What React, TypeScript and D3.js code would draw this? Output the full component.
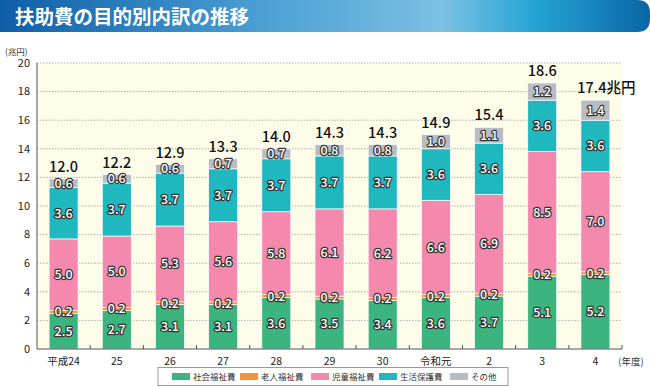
import React from 'react';
import * as d3 from 'd3';

// 年度
const years = ['平成24', '25', '26', '27', '28', '29', '30', '令和元', '2', '3', '4'];
const seriesNames = ['社会福祉費', '老人福祉費', '児童福祉費', '生活保護費', 'その他'];
const shakai = [2.5, 2.7, 3.1, 3.1, 3.6, 3.5, 3.4, 3.6, 3.7, 5.1, 5.2];
const roujin = [0.2, 0.2, 0.2, 0.2, 0.2, 0.2, 0.2, 0.2, 0.2, 0.2, 0.2];
const jidou = [5.0, 5.0, 5.3, 5.6, 5.8, 6.1, 6.2, 6.6, 6.9, 8.5, 7.0];
const seikatsu = [3.6, 3.7, 3.7, 3.7, 3.7, 3.7, 3.7, 3.6, 3.6, 3.6, 3.6];
const sonota = [0.6, 0.6, 0.6, 0.7, 0.7, 0.8, 0.8, 1.0, 1.1, 1.2, 1.4];
const totals = ['12.0', '12.2', '12.9', '13.3', '14.0', '14.3', '14.3', '14.9', '15.4', '18.6', '17.4'];
const yTicks = [0, 2, 4, 6, 8, 10, 12, 14, 16, 18, 20];

const colors = ['#3bb47f', '#f5923a', '#f489ad', '#1fb8be', '#b8bdc4'];
const font = '"Noto Sans CJK JP", "Noto Sans", sans-serif';

const App = () => {
  const width = 650;
  const height = 387;
  const margin = { top: 63, right: 28, bottom: 38, left: 37 };
  const innerW = width - margin.left - margin.right;
  const innerH = height - margin.top - margin.bottom;

  const x = d3.scaleBand().domain(years).range([0, innerW]).paddingInner(0.455).paddingOuter(0.2275);
  const y = d3.scaleLinear().domain([0, 20]).range([innerH, 0]);

  const table = years.map((yr, i) => ({
    yr,
    s0: shakai[i], s1: roujin[i], s2: jidou[i], s3: seikatsu[i], s4: sonota[i],
  }));
  const stack = d3.stack<any>().keys(['s0', 's1', 's2', 's3', 's4'])(table);

  const outline = {
    fill: '#fff',
    stroke: '#333',
    strokeWidth: 2.4,
    paintOrder: 'stroke' as const,
    strokeLinejoin: 'round' as const,
  };

  // 境界の目盛
  const bounds = years.map((_, i) => (i + 1) * x.step());

  const legendX = [172, 240, 311, 379, 450];

  return (
    <svg width={width} height={height} style={{ position: 'absolute', left: 0, top: 0, fontFamily: font }}>
      <defs>
        <linearGradient id="titleGrad" x1="0" x2="1" y1="0" y2="0">
          <stop offset="0" stopColor="#0f5ea8" />
          <stop offset="0.4" stopColor="#4b9fd3" />
          <stop offset="0.68" stopColor="#7cc0e2" />
          <stop offset="0.82" stopColor="#25a5d6" />
          <stop offset="1" stopColor="#0a66a6" />
        </linearGradient>
      </defs>
      <rect x={0} y={0} width={width} height={height} fill="#fff" />
      <path d={`M0,0 H${width - 13} Q${width},0 ${width},13 V19 Q${width},32 ${width - 13},32 H0 Z`} fill="url(#titleGrad)" />
      <text x={15} y={23.5} fill="#fff" fontSize={19.5} fontWeight={700}>扶助費の目的別内訳の推移</text>

      <text x={5} y={55} fontSize={8.5} fill="#333">(兆円)</text>

      <g transform={`translate(${margin.left},${margin.top})`}>
        <rect x={0} y={0} width={innerW} height={innerH} fill="#fefdea" />
        {yTicks.map(t => (
          <g key={t} transform={`translate(0,${y(t)})`}>
            {t > 0 && <line x2={innerW} stroke="#9a9a9a" strokeDasharray="1.5,1.5" strokeWidth={0.8} />}
            <text x={-7} dy="0.35em" textAnchor="end" fontSize={11} fill="#222">{t}</text>
          </g>
        ))}

        {stack.map((layer, si) => (
          <g key={si} fill={colors[si]}>
            {layer.map((d, i) => (
              <rect
                key={i}
                x={x(years[i])}
                y={y(d[1])}
                width={x.bandwidth()}
                height={y(d[0]) - y(d[1])}
                stroke="#fff"
                strokeWidth={0.7}
              />
            ))}
          </g>
        ))}

        {stack.map((layer, si) => (
          <g key={'l' + si} fontSize={12.5} textAnchor="middle" fontWeight={500}>
            {layer.map((d, i) => {
              const v = [shakai, roujin, jidou, seikatsu, sonota][si][i];
              const cx = (x(years[i]) as number) + x.bandwidth() / 2;
              const cy = (y(d[0]) + y(d[1])) / 2;
              return (
                <text key={i} x={cx} y={cy} dy="0.36em" {...outline}>{v.toFixed(1)}</text>
              );
            })}
          </g>
        ))}

        {totals.map((t, i) => {
          const top = stack[4][i][1];
          const cx = (x(years[i]) as number) + x.bandwidth() / 2;
          const last = i === totals.length - 1;
          return (
            <text key={i} x={last ? cx + 11 : cx} y={y(top) - 7} textAnchor="middle" fontSize={14.5} fontWeight={500} fill="#111">
              {last ? t + '兆円' : t}
            </text>
          );
        })}

        <line x1={0} x2={0} y1={0} y2={innerH} stroke="#555" strokeWidth={1} />
        <line x1={0} x2={innerW} y1={innerH} y2={innerH} stroke="#555" strokeWidth={1} />
        {bounds.map((b, i) => (
          <line key={i} x1={b} x2={b} y1={innerH} y2={innerH - 4} stroke="#555" />
        ))}
        {years.map((yr, i) => (
          <text key={i} x={(x(yr) as number) + x.bandwidth() / 2} y={innerH + 16} textAnchor="middle" fontSize={10.5} fill="#222">{yr}</text>
        ))}
        <text x={innerW + 9} y={innerH + 16} textAnchor="middle" fontSize={9.5} fill="#333">(年度)</text>
      </g>

      <rect x={158} y={367.5} width={350} height={18} fill="#fff" stroke="#999" strokeWidth={1} />
      {seriesNames.map((n, i) => (
        <g key={n}>
          <rect x={legendX[i]} y={373} width={18} height={7} fill={colors[i]} />
          <text x={legendX[i] + 21} y={380} fontSize={8.5} fill="#333">{n}</text>
        </g>
      ))}
    </svg>
  );
};

export default App;
